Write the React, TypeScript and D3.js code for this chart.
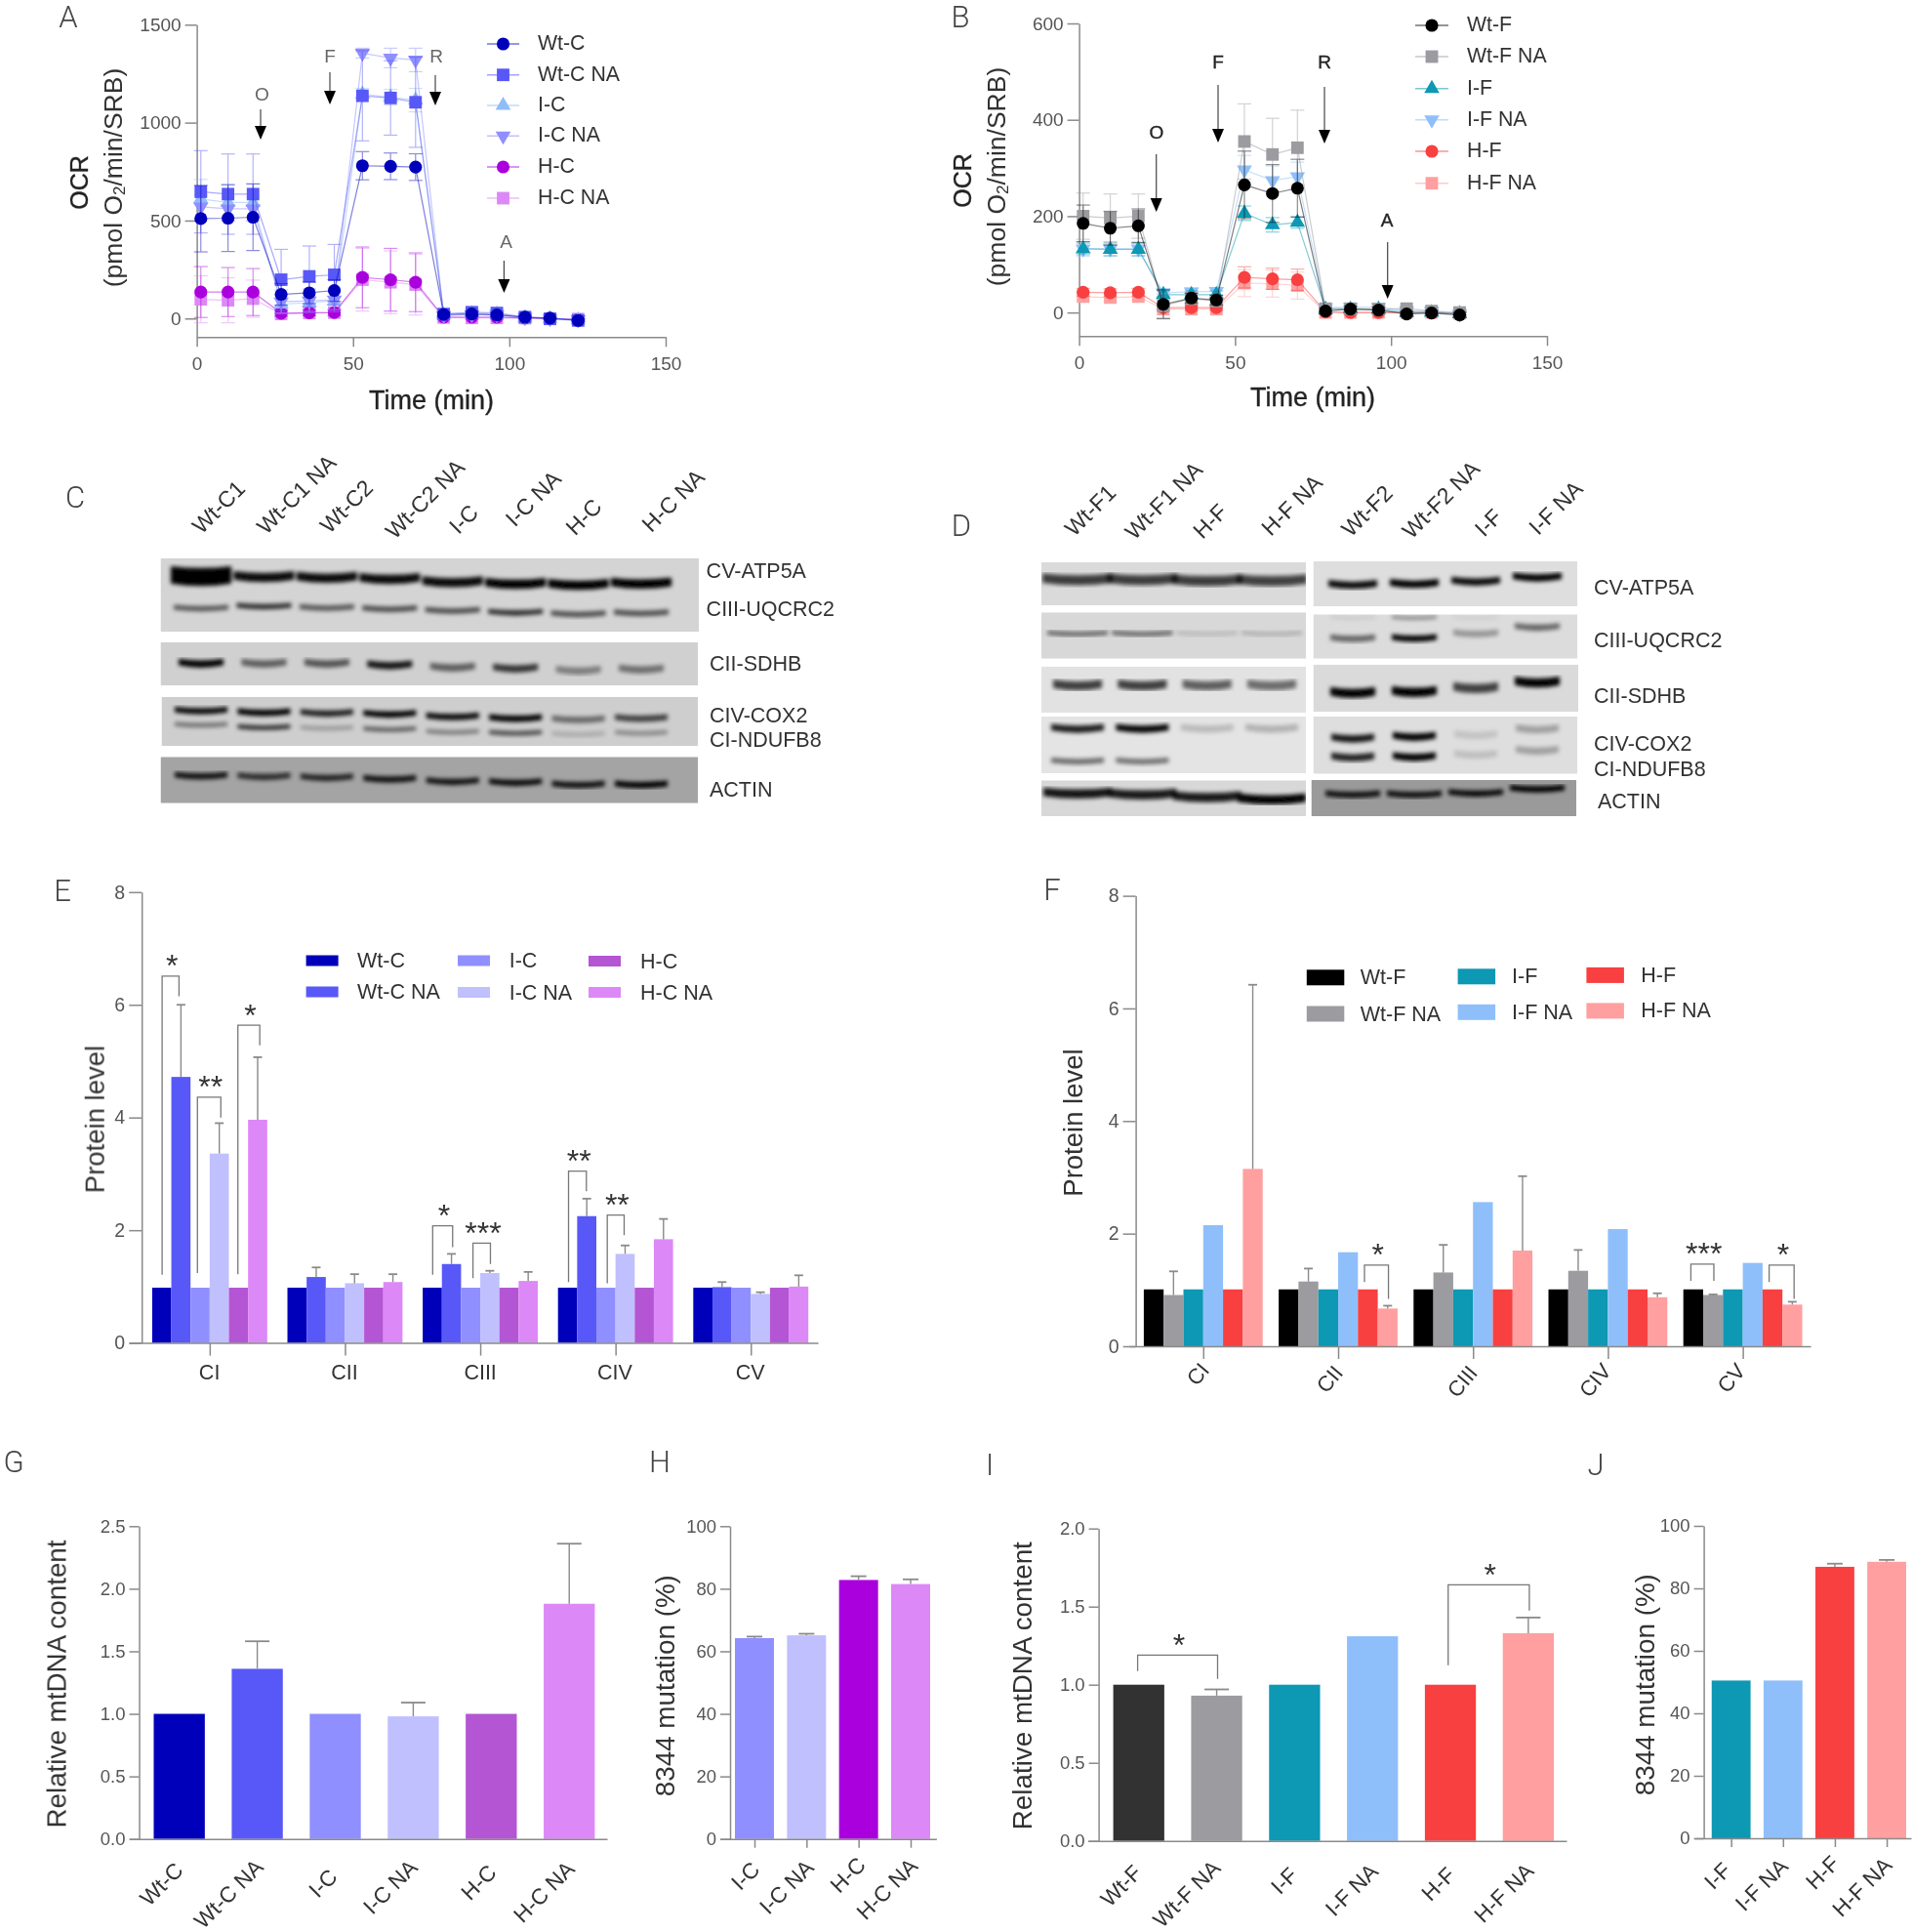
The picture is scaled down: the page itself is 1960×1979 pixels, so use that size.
import React, { useEffect, useRef } from "react";
import * as d3 from "d3";

const FONT = "'Liberation Sans', Arial, sans-serif";

// ---------- Panels A / B: OCR time courses ----------
const A_TIME = [1.3, 10, 18, 27, 36, 44, 53, 62, 70, 79, 88, 96, 105, 113, 122];
const A_WTC = [510, 512, 517, 123, 131, 143, 780, 777, 773, 20, 23, 18, 7, 2, -10];
const A_WTC_E = [170, 170, 170, 55, 55, 55, 72, 68, 68, 10, 12, 10, 6, 5, 6];
const A_WTCNA = [647, 635, 635, 198, 215, 223, 1137, 1126, 1104, 23, 32, 28, 7, -2, -10];
const A_WTCNA_E = [210, 205, 205, 155, 155, 155, 230, 190, 230, 15, 15, 15, 8, 6, 6];
const A_IC = [610, 592, 592, 73, 81, 90, 1145, 1130, 1115, 18, 25, 22, 5, 0, -8];
const A_IC_E = [100, 95, 95, 45, 45, 45, 30, 40, 60, 10, 10, 10, 6, 5, 5];
const A_ICNA = [570, 560, 560, 85, 90, 95, 1355, 1330, 1320, 15, 20, 18, 5, 0, -6];
const A_ICNA_E = [60, 60, 60, 60, 60, 60, 25, 50, 60, 10, 10, 10, 6, 5, 5];
const A_HC = [135, 135, 135, 27, 29, 30, 210, 198, 185, 7, 7, 7, 2, 0, -5];
const A_HC_E = [130, 125, 120, 15, 15, 15, 155, 160, 150, 8, 8, 8, 5, 5, 5];
const A_HCNA = [98, 93, 101, 23, 28, 30, 198, 185, 173, 5, 3, 3, 2, 0, -3];
const A_HCNA_E = [120, 115, 95, 15, 15, 15, 160, 160, 155, 8, 8, 8, 5, 5, 8];

const B_TIME = [1.3, 10, 19, 27, 36, 44, 53, 62, 70, 79, 87, 96, 105, 113, 122];
const B_WTF = [185, 175, 180, 17, 30, 26, 265, 247, 258, 3, 7, 5, -3, -1, -5];
const B_WTF_E = [38, 35, 35, 30, 10, 10, 70, 60, 60, 6, 6, 6, 5, 5, 5];
const B_WTFNA = [200, 196, 200, 14, 29, 24, 355, 328, 342, 8, 8, 7, 8, 3, 0];
const B_WTFNA_E = [48, 50, 46, 25, 12, 10, 78, 75, 78, 6, 6, 6, 5, 5, 5];
const B_IF = [132, 131, 131, 37, 37, 37, 206, 182, 187, 7, 7, 7, 0, 0, -3];
const B_IF_E = [12, 13, 13, 8, 8, 8, 15, 15, 12, 5, 5, 5, 4, 4, 4];
const B_IFNA = [132, 132, 132, 41, 43, 44, 296, 274, 282, 10, 11, 11, 3, 3, -3];
const B_IFNA_E = [15, 15, 15, 8, 8, 8, 30, 30, 30, 5, 5, 5, 4, 4, 4];
const B_HF = [42, 41, 42, 10, 10, 10, 73, 70, 68, 1, 0, 0, 0, 0, -2];
const B_HF_E = [8, 8, 8, 5, 5, 5, 22, 22, 22, 4, 4, 4, 3, 3, 3];
const B_HFNA = [33, 31, 33, 7, 7, 7, 61, 60, 56, 0, 0, 0, 0, 0, -2];
const B_HFNA_E = [8, 8, 8, 5, 5, 5, 28, 28, 28, 4, 4, 4, 3, 3, 3];

const C_NAMES = ["Wt-C", "Wt-C NA", "I-C", "I-C NA", "H-C", "H-C NA"];
const F_NAMES = ["Wt-F", "Wt-F NA", "I-F", "I-F NA", "H-F", "H-F NA"];
const OCR_C_COLORS = ["#0000bb", "#5858f8", "#90bcf8", "#8f8fff", "#aa00dd", "#dd88f7"];
const OCR_F_COLORS = ["#000000", "#9b9ba0", "#0f98b4", "#8fbffa", "#f84040", "#ff9f9f"];
const BAR_C_COLORS = ["#0000bb", "#5858f8", "#8f8fff", "#c0c0ff", "#b455d4", "#dd88f7"];
const BAR_F_COLORS = ["#000000", "#9b9ba0", "#0f98b4", "#8fbffa", "#f84040", "#ff9f9f"];

// ---------- Panels C / D: blots (relative band migration and darkness) ----------
const C_LANES = ["Wt-C1", "Wt-C1 NA", "Wt-C2", "Wt-C2 NA", "I-C", "I-C  NA", "H-C", "H-C  NA"];
const C_ATP_POS = [0.252, 0.26, 0.27, 0.286, 0.33, 0.352, 0.366, 0.349];
const C_ATP_DARK = [1, 0.95, 0.95, 0.95, 0.95, 1, 1, 1];
const C_UQ_POS = [0.685, 0.659, 0.677, 0.694, 0.717, 0.743, 0.764, 0.751];
const C_UQ_DARK = [0.6, 0.8, 0.6, 0.65, 0.65, 0.8, 0.65, 0.65];
const C_SDHB_POS = [0.497, 0.497, 0.497, 0.535, 0.587, 0.61, 0.66, 0.632];
const C_SDHB_DARK = [1, 0.55, 0.6, 0.9, 0.55, 0.75, 0.4, 0.47];
const C_COX_POS = [0.284, 0.318, 0.332, 0.352, 0.404, 0.437, 0.463, 0.437];
const C_COX_DARK = [0.95, 1, 0.85, 1, 0.95, 1, 0.5, 0.7];
const C_NDU_POS = [0.571, 0.622, 0.636, 0.662, 0.716, 0.736, 0.761, 0.736];
const C_NDU_DARK = [0.45, 0.8, 0.25, 0.55, 0.4, 0.65, 0.18, 0.35];
const C_ACT_POS = [0.416, 0.43, 0.451, 0.485, 0.536, 0.557, 0.605, 0.605];
const C_ACT_DARK = [0.9, 0.75, 0.8, 0.9, 0.9, 0.95, 0.9, 1];

const D_LANES_L = ["Wt-F1", "Wt-F1 NA", "H-F", "H-F NA"];
const D_LANES_R = ["Wt-F2", "Wt-F2 NA", "I-F", "I-F NA"];
const DL_ATP_POS = [0.41, 0.41, 0.43, 0.43];
const DL_ATP_DARK = [0.72, 0.72, 0.72, 0.7];
const DL_UQ_POS = [0.464, 0.464, 0.464, 0.464];
const DL_UQ_DARK = [0.55, 0.55, 0.14, 0.18];
const DL_SDHB_POS = [0.414, 0.414, 0.414, 0.414];
const DL_SDHB_DARK = [0.72, 0.72, 0.58, 0.52];
const DL_COX_POS = [0.219, 0.219, 0.219, 0.219];
const DL_COX_DARK = [0.88, 0.98, 0.18, 0.22];
const DL_NDU_POS = [0.793, 0.793, 0.793, 0.793];
const DL_NDU_DARK = [0.55, 0.52, 0, 0];
const DL_ACT_POS = [0.373, 0.4, 0.474, 0.537];
const DL_ACT_DARK = [0.9, 0.88, 0.88, 1];
const DR_ATP_POS = [0.528, 0.507, 0.457, 0.363];
const DR_ATP_DARK = [0.95, 1, 0.95, 1];
const DR_UQ_POS = [0.551, 0.544, 0.441, 0.295];
const DR_UQ_DARK = [0.55, 1, 0.33, 0.55];
const DR_UQ2_POS = [0.08, 0.08, 0.08, 0.08];
const DR_UQ2_DARK = [0.08, 0.38, 0.06, 0];
const DR_SDHB_POS = [0.603, 0.582, 0.5, 0.383];
const DR_SDHB_DARK = [1, 1, 0.7, 1];
const DR_COX_POS = [0.387, 0.358, 0.329, 0.227];
const DR_COX_DARK = [0.9, 1, 0.12, 0.28];
const DR_NDU_POS = [0.716, 0.71, 0.67, 0.6];
const DR_NDU_DARK = [0.85, 1, 0.14, 0.28];
const DR_ACT_POS = [0.405, 0.405, 0.37, 0.25];
const DR_ACT_DARK = [0.9, 0.9, 0.95, 1];

// ---------- Panels E / F: protein level ----------
const COMPLEXES = ["CI", "CII", "CIII", "CIV", "CV"];
const E_WTC = [0.98, 0.98, 0.98, 0.98, 0.98];
const E_WTCNA = [4.72, 1.17, 1.4, 2.25, 0.99];
const E_IC = [0.98, 0.98, 0.98, 0.98, 0.98];
const E_ICNA = [3.36, 1.06, 1.24, 1.58, 0.87];
const E_HC = [0.98, 0.98, 0.98, 0.98, 0.98];
const E_HCNA = [3.96, 1.08, 1.1, 1.84, 1.0];
const E_WTCNA_TOP = [6.0, 1.34, 1.58, 2.56, 1.08];
const E_ICNA_TOP = [3.9, 1.22, 1.28, 1.73, 0.9];
const E_HCNA_TOP = [5.07, 1.22, 1.26, 2.2, 1.2];
const E_SIG = [
  { group: 0, from: 0.52, to: 1.4, top: 6.51, left: 1.21, right: 6.15, label: "*" },
  { group: 0, from: 2.36, to: 3.58, top: 4.36, left: 1.24, right: 4.0, label: "**" },
  { group: 0, from: 4.47, to: 5.61, top: 5.64, left: 1.22, right: 5.28, label: "*" },
  { group: 2, from: 0.52, to: 1.56, top: 2.08, left: 1.21, right: 1.7, label: "*" },
  { group: 2, from: 2.62, to: 3.53, top: 1.77, left: 1.15, right: 1.4, label: "***" },
  { group: 3, from: 0.55, to: 1.48, top: 3.05, left: 1.08, right: 2.69, label: "**" },
  { group: 3, from: 2.57, to: 3.45, top: 2.27, left: 1.06, right: 1.91, label: "**" },
];

const F_WTF = [1.01, 1.01, 1.01, 1.01, 1.01];
const F_WTFNA = [0.91, 1.15, 1.31, 1.34, 0.91];
const F_IF = [1.01, 1.01, 1.01, 1.01, 1.01];
const F_IFNA = [2.15, 1.67, 2.56, 2.08, 1.48];
const F_HF = [1.01, 1.01, 1.01, 1.01, 1.01];
const F_HFNA = [3.15, 0.67, 1.7, 0.87, 0.74];
const F_WTFNA_TOP = [1.33, 1.38, 1.8, 1.71, 0.92];
const F_HFNA_TOP = [6.42, 0.72, 3.02, 0.94, 0.79];
const F_SIG = [
  { group: 1, from: 4.33, to: 5.54, top: 1.44, left: 1.14, right: 0.84, label: "*" },
  { group: 4, from: 0.38, to: 1.54, top: 1.46, left: 1.16, right: 1.16, label: "***" },
  { group: 4, from: 4.33, to: 5.59, top: 1.44, left: 1.14, right: 0.84, label: "*" },
];

// ---------- Panels G / H / I / J ----------
const G_VALUES = [1, 1.36, 1, 0.98, 1, 1.88];
const G_TOPS = [null, 1.58, null, 1.09, null, 2.36];
const H_CATS = ["I-C", "I-C NA", "H-C", "H-C NA"];
const H_VALUES = [64.2, 65.1, 82.8, 81.5];
const H_TOPS = [64.7, 65.6, 84.0, 83.0];
const I_VALUES = [1, 0.93, 1, 1.31, 1, 1.33];
const I_TOPS = [null, 0.97, null, null, null, 1.43];
const J_CATS = ["I-F", "I-F NA", "H-F", "H-F NA"];
const J_VALUES = [50.5, 50.5, 86.9, 88.5];
const J_TOPS = [null, null, 87.9, 89.1];

type Sel = any;

function txt(g: Sel, x: number, y: number, s: string, o: any = {}) {
  return g
    .append("text")
    .attr("transform", `translate(${x},${y})${o.rot ? ` rotate(${o.rot})` : ""}`)
    .attr("text-anchor", o.anchor || "middle")
    .attr("dominant-baseline", o.base || "central")
    .attr("font-family", o.family || FONT)
    .attr("font-size", o.size || 20)
    .attr("font-weight", o.weight || 400)
    .attr("fill", o.fill || "#333")
    .attr("stroke", o.stroke || "none")
    .attr("stroke-width", o.stroke ? 0.35 : 0)
    .text(s);
}

function styleAxis(a: Sel, fontSize: number) {
  a.selectAll("path,line").attr("stroke", "#8a8a8a").attr("stroke-width", 1.5);
  a.selectAll("text").attr("font-family", FONT).attr("font-size", fontSize).attr("fill", "#555");
}

function yAxis(g: Sel, y: any, x: number, values: number[], fmt: any, len: number, fs = 19) {
  const a = g
    .append("g")
    .attr("transform", `translate(${x},0)`)
    .call(d3.axisLeft(y).tickValues(values).tickFormat(fmt).tickSize(len).tickSizeOuter(0).tickPadding(4));
  styleAxis(a, fs);
}

function xAxisTicks(g: Sel, x: any, y: number, values: number[], len: number, fmt: any = () => "") {
  const a = g
    .append("g")
    .attr("transform", `translate(0,${y})`)
    .call(d3.axisBottom(x).tickValues(values).tickFormat(fmt).tickSize(len).tickSizeOuter(0).tickPadding(10));
  styleAxis(a, 19);
}

function marker(g: Sel, i: number, x: number, y: number, color: string) {
  const types = [d3.symbolCircle, d3.symbolSquare, d3.symbolTriangle, d3.symbolTriangle, d3.symbolCircle, d3.symbolSquare];
  const sizes = [135, 165, 105, 105, 135, 165];
  g.append("path")
    .attr("d", d3.symbol().type(types[i]).size(sizes[i])())
    .attr("transform", `translate(${x},${y})${i === 3 ? " rotate(180)" : ""}`)
    .attr("fill", color);
}

function arrow(g: Sel, x: number, y0: number, y1: number, label: string, lx: number, ly: number, col: string, bold: boolean) {
  txt(g, lx, ly, label, { size: 19, fill: col, stroke: bold ? col : undefined });
  g.append("line").attr("x1", x).attr("x2", x).attr("y1", y0).attr("y2", y1 - 8).attr("stroke", "#444").attr("stroke-width", 1.2);
  g.append("path").attr("d", `M${x - 6},${y1 - 14}L${x + 6},${y1 - 14}L${x},${y1}Z`).attr("fill", "#000");
}

function ocr(g: Sel, c: any) {
  const x = d3.scaleLinear().domain([0, 150]).range(c.xRange);
  const y = d3.scaleLinear().domain(c.yDomain).range(c.yRange);
  yAxis(g, y, c.xRange[0], c.yTicks, d3.format("d"), 12);
  xAxisTicks(g, x, c.yRange[0], [0, 50, 100, 150], 10, d3.format("d"));
  const line = d3.line<number>().x((_, i) => x(c.time[i])).y((v) => y(v));
  c.draw.forEach((si: number) => {
    const vals = c.series[si];
    const errs = c.errs[si];
    const col = c.colors[si];
    const sg = g.append("g");
    vals.forEach((v: number, i: number) => {
      const px = x(c.time[i]);
      const eg = sg.append("g").attr("stroke", col).attr("stroke-width", 1.2).attr("opacity", 0.45);
      eg.append("line").attr("x1", px).attr("x2", px).attr("y1", y(v - errs[i])).attr("y2", y(v + errs[i]));
      [v - errs[i], v + errs[i]].forEach((e) =>
        eg.append("line").attr("x1", px - 7).attr("x2", px + 7).attr("y1", y(e)).attr("y2", y(e))
      );
    });
    sg.append("path").attr("d", line(vals)).attr("fill", "none").attr("stroke", col).attr("stroke-width", 1.2).attr("opacity", 0.5);
    vals.forEach((v: number, i: number) => marker(sg, si, x(c.time[i]), y(v), col));
  });
  c.names.forEach((n: string, i: number) => {
    const ly = c.legendY[i];
    g.append("line").attr("x1", c.legendX[0]).attr("x2", c.legendX[1]).attr("y1", ly).attr("y2", ly).attr("stroke", c.colors[i]).attr("opacity", 0.55).attr("stroke-width", 1.5);
    marker(g, i, (c.legendX[0] + c.legendX[1]) / 2, ly, c.colors[i]);
    txt(g, c.legendX[2], ly - 1.2, n, { anchor: "start", size: 21.3 });
  });
  txt(g, c.timeX, c.timeY, "Time (min)", { size: 27, fill: "#222", stroke: "#222" });
  txt(g, c.ocrX, c.ocrY, "OCR", { size: 25, rot: -90, fill: "#222", stroke: "#222" });
  const t = txt(g, c.ocr2X, c.ocr2Y, "", { size: 26.5, rot: -90, fill: "#333" });
  t.append("tspan").text("(pmol O");
  t.append("tspan").attr("dy", 6).attr("font-size", 17).text("2");
  t.append("tspan").attr("dy", -6).text("/min/SRB)");
}

function blot(g: Sel, svg: Sel, id: string, b: any) {
  const cid = `clip-${id}`;
  svg.select("defs").append("clipPath").attr("id", cid).append("rect").attr("x", b.x[0]).attr("y", b.y[0]).attr("width", b.x[1] - b.x[0]).attr("height", b.y[1] - b.y[0]);
  const p = g.append("g").attr("clip-path", `url(#${cid})`);
  p.append("rect").attr("x", b.x[0]).attr("y", b.y[0]).attr("width", b.x[1] - b.x[0]).attr("height", b.y[1] - b.y[0]).attr("fill", b.bg);
  const lane = d3.scalePoint<number>().domain(d3.range(b.lanes[2])).range([b.lanes[0], b.lanes[1]]);
  const ry = d3.scaleLinear().domain([0, 1]).range(b.y);
  const f = p.append("g").attr("filter", "url(#band)");
  b.bands.forEach((bd: any) => {
    bd.pos.forEach((pos: number, i: number) => {
      const th = bd.thick * (bd.first && i === 0 ? bd.first : 1);
      const w = bd.width || b.width;
      const cx = lane(i)!;
      const yc = ry(pos);
      const x0 = cx - w / 2;
      const x1 = cx + w / 2;
      const c = Math.min(2.5, th * 0.3);
      f.append("path")
        .attr("d", `M${x0},${yc - th / 2 - c / 2}Q${cx},${yc - th / 2 + c} ${x1},${yc - th / 2 - c / 2}L${x1},${yc + th / 2 - c}Q${cx},${yc + th / 2 + c} ${x0},${yc + th / 2 - c}Z`)
        .attr("fill", "#000")
        .attr("opacity", bd.dark[i]);
    });
  });
}

function bars(g: Sel, y: any, items: any[], capW: number) {
  items.forEach((d) => {
    g.append("rect").attr("x", d.x).attr("width", d.w).attr("y", y(d.v)).attr("height", y(0) - y(d.v)).attr("fill", d.color);
  });
  items.forEach((d) => {
    if (d.top == null) return;
    const cx = d.x + d.w / 2;
    g.append("line").attr("x1", cx).attr("x2", cx).attr("y1", y(d.v)).attr("y2", y(d.top)).attr("stroke", "#8a8a8a").attr("stroke-width", 1.4);
    g.append("line").attr("x1", cx - capW / 2).attr("x2", cx + capW / 2).attr("y1", y(d.top)).attr("y2", y(d.top)).attr("stroke", "#8a8a8a").attr("stroke-width", 1.8);
  });
}

function bracket(g: Sel, x0: number, x1: number, yTop: number, yL: number, yR: number, label: string) {
  g.append("path").attr("d", `M${x0},${yL}V${yTop}H${x1}V${yR}`).attr("fill", "none").attr("stroke", "#777").attr("stroke-width", 1.3);
  txt(g, (x0 + x1) / 2 + 1.5, yTop + 0.5, label, { size: 32, base: "alphabetic", fill: "#333" });
}

function grouped(g: Sel, c: any) {
  const y = d3.scaleLinear().domain([0, 8]).range(c.yRange);
  const gx = d3.scaleLinear().domain([0, 5]).range([c.start, c.start + 5 * c.step]);
  const sx = d3.scaleBand<number>().domain(d3.range(6)).range([0, c.barW * 6]);
  const tx = d3.scaleLinear().domain(c.xLine).range(c.xLine);
  yAxis(g, y, c.axisX, [0, 2, 4, 6, 8], d3.format("d"), 13, 19.5);
  const items: any[] = [];
  COMPLEXES.forEach((_, gi) => {
    c.values.forEach((vs: number[], si: number) => {
      items.push({ x: gx(gi) + sx(si)!, w: sx.bandwidth(), v: vs[gi], top: c.tops[si] ? c.tops[si][gi] : null, color: c.colors[si] });
    });
  });
  const unit = d3.scaleLinear().domain([0, 6]).range([0, c.barW * 6]);
  bars(g, y, items, 9);
  xAxisTicks(g, tx, c.yRange[0], COMPLEXES.map((_, i) => gx(i) + unit(3)), 13);
  c.sig.forEach((s: any) => {
    const st = gx(s.group);
    bracket(g, st + unit(s.from), st + unit(s.to), y(s.top), y(s.left), y(s.right), s.label);
  });
  c.names.forEach((n: string, i: number) => {
    const k = Math.floor(i / 2);
    const row = i % 2;
    g.append("rect").attr("x", c.legX[k]).attr("y", c.legY[k][row]).attr("width", c.legW).attr("height", c.legH).attr("fill", c.colors[i]);
    txt(g, c.legTx[k], c.legY[k][row] + c.legH / 2, n, { anchor: "start", size: 21.5 });
  });
  txt(g, c.titleX, c.titleY, "Protein level", { size: 27.5, rot: -90 });
}

function single(g: Sel, c: any) {
  const y = d3.scaleLinear().domain(c.yDomain).range(c.yRange);
  const x = d3.scaleBand<string>().domain(c.cats).range(c.xRange).paddingInner(c.pad).paddingOuter(0);
  const tx = d3.scaleLinear().domain(c.xLine).range(c.xLine);
  yAxis(g, y, c.axisX, c.ticks, c.fmt, c.tickLen, 18.5);
  const items = c.cats.map((cat: string, i: number) => ({ x: x(cat), w: x.bandwidth(), v: c.values[i], top: c.tops[i], color: c.colors[i] }));
  bars(g, y, items, c.capW);
  xAxisTicks(g, tx, c.yRange[0], c.showTicks ? c.cats.map((k: string) => x(k)! + x.bandwidth() / 2) : [], 9);
  c.labelPos.forEach((p: number[], i: number) => txt(g, p[0], p[1], c.cats[i], { size: 22.5, rot: -45 }));
  txt(g, c.titleX, c.titleY, c.title, { size: 27.8, rot: -90 });
  (c.sig || []).forEach((s: any) => bracket(g, s.x0, s.x1, y(s.top), y(s.left), y(s.right), "*"));
}

function draw(el: SVGSVGElement) {
  const svg: Sel = d3.select(el);
  svg.selectAll("*").remove();
  const defs = svg.append("defs");
  defs.append("filter").attr("id", "band").attr("x", "-5%").attr("y", "-5%").attr("width", "110%").attr("height", "110%")
    .append("feGaussianBlur").attr("stdDeviation", 2.2);
  defs.append("filter").attr("id", "soft").attr("x", 0).attr("y", 0).attr("width", 1960).attr("height", 1979).attr("filterUnits", "userSpaceOnUse")
    .append("feGaussianBlur").attr("stdDeviation", 0.55);
  svg.append("rect").attr("width", 1960).attr("height", 1979).attr("fill", "#fff");
  const g = svg.append("g").attr("filter", "url(#soft)");

  // panel letters
  ([["A", 70, 17], ["B", 984, 17], ["C", 77, 509], ["D", 985, 538], ["E", 64, 912], ["F", 1078, 911], ["G", 14, 1497], ["H", 676, 1497], ["I", 1014, 1500], ["J", 1635, 1500]] as any[]).forEach(
    (l) => txt(g, l[1], l[2], l[0], { size: 31, fill: "#444", family: "Roboto, 'Liberation Sans', sans-serif", weight: 300 })
  );

  // A
  ocr(g, {
    xRange: [201.6, 682], yDomain: [-95, 1500], yRange: [345.3, 25.3], yTicks: [0, 500, 1000, 1500],
    time: A_TIME, series: [A_WTC, A_WTCNA, A_IC, A_ICNA, A_HC, A_HCNA], errs: [A_WTC_E, A_WTCNA_E, A_IC_E, A_ICNA_E, A_HC_E, A_HCNA_E],
    colors: OCR_C_COLORS, names: C_NAMES, draw: [5, 4, 2, 3, 1, 0],
    legendX: [499, 532, 551], legendY: [45, 76.7, 108, 139.3, 171, 203],
    timeX: 442, timeY: 410, ocrX: 81, ocrY: 187, ocr2X: 116, ocr2Y: 182,
  });
  arrow(g, 267, 112, 143, "O", 268.5, 96, "#666", false);
  arrow(g, 338, 74, 107, "F", 338, 57, "#666", false);
  arrow(g, 446, 77, 108, "R", 447, 57, "#666", false);
  arrow(g, 516.4, 267, 300, "A", 518.5, 247, "#666", false);

  // B
  ocr(g, {
    xRange: [1105.6, 1585], yDomain: [-49, 600], yRange: [344.3, 24], yTicks: [0, 200, 400, 600],
    time: B_TIME, series: [B_WTF, B_WTFNA, B_IF, B_IFNA, B_HF, B_HFNA], errs: [B_WTF_E, B_WTFNA_E, B_IF_E, B_IFNA_E, B_HF_E, B_HFNA_E],
    colors: OCR_F_COLORS, names: F_NAMES, draw: [5, 4, 3, 2, 1, 0],
    legendX: [1450, 1484, 1503], legendY: [26, 58, 90.7, 122.7, 155, 187.7],
    timeX: 1345, timeY: 407, ocrX: 986, ocrY: 185, ocr2X: 1021, ocr2Y: 181,
  });
  arrow(g, 1184.7, 158, 217, "O", 1185, 135, "#222", true);
  arrow(g, 1248, 87, 146, "F", 1248, 63, "#222", true);
  arrow(g, 1357, 89, 147, "R", 1357, 63, "#222", true);
  arrow(g, 1421.7, 248, 306, "A", 1421, 225, "#222", true);

  // C
  const cl = [206, 657, 8];
  blot(g, svg, "c1", { x: [164.5, 716], y: [571.7, 647], bg: "#d4d4d4", lanes: cl, width: 62, bands: [
    { pos: C_ATP_POS, dark: C_ATP_DARK, thick: 10, first: 1.9 }, { pos: C_UQ_POS, dark: C_UQ_DARK, thick: 6, width: 56 } ] });
  blot(g, svg, "c2", { x: [164.5, 715], y: [658, 702.3], bg: "#d0d0d0", lanes: cl, width: 46, bands: [{ pos: C_SDHB_POS, dark: C_SDHB_DARK, thick: 8 }] });
  blot(g, svg, "c3", { x: [165.5, 715], y: [714, 764.3], bg: "#cecece", lanes: cl, width: 54, bands: [
    { pos: C_COX_POS, dark: C_COX_DARK, thick: 7 }, { pos: C_NDU_POS, dark: C_NDU_DARK, thick: 5 } ] });
  blot(g, svg, "c4", { x: [164.5, 715], y: [775.3, 822.7], bg: "#a4a4a4", lanes: cl, width: 54, bands: [{ pos: C_ACT_POS, dark: C_ACT_DARK, thick: 7 }] });
  ([[223.8, 519.3], [303.6, 506.3], [354.9, 518.7], [435.4, 511], [475, 531.7], [546.3, 510.7], [598, 529.3], [689.6, 512.7]] as number[][]).forEach((p, i) =>
    txt(g, p[0], p[1], C_LANES[i], { size: 23, rot: -45 })
  );
  ([["CV-ATP5A", 723.6, 585], ["CIII-UQCRC2", 723.6, 624], ["CII-SDHB", 727, 680], ["CIV-COX2", 727, 733], ["CI-NDUFB8", 727, 758], ["ACTIN", 727, 809]] as any[]).forEach((l) =>
    txt(g, l[1], l[2], l[0], { anchor: "start", size: 21.5 })
  );

  // D
  const dl = [1104, 1303, 4];
  const dr = [1386, 1575, 4];
  blot(g, svg, "dl1", { x: [1067, 1338], y: [576, 620], bg: "#dadada", lanes: dl, width: 72, bands: [{ pos: DL_ATP_POS, dark: DL_ATP_DARK, thick: 11 }] });
  blot(g, svg, "dl2", { x: [1067, 1338], y: [627.3, 674.7], bg: "#d8d8d8", lanes: dl, width: 62, bands: [{ pos: DL_UQ_POS, dark: DL_UQ_DARK, thick: 5 }] });
  blot(g, svg, "dl3", { x: [1067, 1338], y: [682.7, 730], bg: "#e2e2e2", lanes: dl, width: 50, bands: [{ pos: DL_SDHB_POS, dark: DL_SDHB_DARK, thick: 10 }] });
  blot(g, svg, "dl4", { x: [1067, 1338], y: [734, 792], bg: "#e4e4e4", lanes: dl, width: 54, bands: [
    { pos: DL_COX_POS, dark: DL_COX_DARK, thick: 8 }, { pos: DL_NDU_POS, dark: DL_NDU_DARK, thick: 6 } ] });
  blot(g, svg, "dl5", { x: [1067, 1338], y: [799.3, 836], bg: "#d8d8d8", lanes: dl, width: 70, bands: [{ pos: DL_ACT_POS, dark: DL_ACT_DARK, thick: 10 }] });
  blot(g, svg, "dr1", { x: [1345.5, 1616], y: [575, 621], bg: "#dedede", lanes: dr, width: 50, bands: [{ pos: DR_ATP_POS, dark: DR_ATP_DARK, thick: 8 }] });
  blot(g, svg, "dr2", { x: [1345.5, 1616], y: [629.3, 674.7], bg: "#dcdcdc", lanes: dr, width: 46, bands: [
    { pos: DR_UQ_POS, dark: DR_UQ_DARK, thick: 7 }, { pos: DR_UQ2_POS, dark: DR_UQ2_DARK, thick: 4 } ] });
  blot(g, svg, "dr3", { x: [1345.5, 1617], y: [680.7, 729.3], bg: "#dadada", lanes: dr, width: 46, bands: [{ pos: DR_SDHB_POS, dark: DR_SDHB_DARK, thick: 10 }] });
  blot(g, svg, "dr4", { x: [1345.5, 1616], y: [734, 792.7], bg: "#dedede", lanes: dr, width: 44, bands: [
    { pos: DR_COX_POS, dark: DR_COX_DARK, thick: 8 }, { pos: DR_NDU_POS, dark: DR_NDU_DARK, thick: 8 } ] });
  blot(g, svg, "dr5", { x: [1343.5, 1615], y: [799, 836], bg: "#9a9a9a", lanes: dr, width: 56, bands: [{ pos: DR_ACT_POS, dark: DR_ACT_DARK, thick: 7 }] });
  ([[1116.9, 522.7], [1192.2, 512.7], [1239.8, 533.7], [1323.5, 517.3]] as number[][]).forEach((p, i) =>
    txt(g, p[0], p[1], D_LANES_L[i], { size: 23, rot: -45 })
  );
  ([[1400.4, 523.3], [1476.2, 511.7], [1524.9, 535.3], [1593.9, 520]] as number[][]).forEach((p, i) =>
    txt(g, p[0], p[1], D_LANES_R[i], { size: 23, rot: -45 })
  );
  ([["CV-ATP5A", 1633, 601.5], ["CIII-UQCRC2", 1633, 655.5], ["CII-SDHB", 1633, 713], ["CIV-COX2", 1633, 761.7], ["CI-NDUFB8", 1633, 788.3], ["ACTIN", 1637, 820.7]] as any[]).forEach((l) =>
    txt(g, l[1], l[2], l[0], { anchor: "start", size: 21.5 })
  );

  // E
  grouped(g, {
    yRange: [1375.6, 913.8], axisX: 145.2, xLine: [132.4, 838], start: 155.9, step: 138.6, barW: 19.65,
    values: [E_WTC, E_WTCNA, E_IC, E_ICNA, E_HC, E_HCNA], tops: [null, E_WTCNA_TOP, null, E_ICNA_TOP, null, E_HCNA_TOP],
    colors: BAR_C_COLORS, names: C_NAMES, sig: E_SIG,
    legX: [313.6, 469, 603], legTx: [366, 521.7, 656], legY: [[978.5, 1010.5], [978.5, 1011], [979, 1011]], legW: 33, legH: 11,
    titleX: 96.7, titleY: 1146.5,
  });
  COMPLEXES.forEach((c, i) => txt(g, [214.6, 352.9, 492.1, 629.9, 768.7][i], 1405.5, c, { size: 21.5 }));

  // F
  grouped(g, {
    yRange: [1379, 917.6], axisX: 1163.6, xLine: [1156.8, 1855], start: 1171.9, step: 138.2, barW: 20.3,
    values: [F_WTF, F_WTFNA, F_IF, F_IFNA, F_HF, F_HFNA], tops: [null, F_WTFNA_TOP, null, null, null, F_HFNA_TOP],
    colors: BAR_F_COLORS, names: F_NAMES, sig: F_SIG,
    legX: [1338.8, 1493.6, 1625.4], legTx: [1393.7, 1549, 1681.3], legY: [[993.3, 1030.5], [992.3, 1028.8], [990.9, 1027.4]], legW: 38.5, legH: 16,
    titleX: 1099, titleY: 1150,
  });
  ([[1227.4, 1407.6], [1362.3, 1412.7], [1498.3, 1415], [1634.3, 1414], [1773.9, 1411.7]] as number[][]).forEach((p, i) =>
    txt(g, p[0], p[1], COMPLEXES[i], { size: 22, rot: -50 })
  );

  // G
  single(g, {
    yDomain: [0, 2.5], yRange: [1883.7, 1563.3], axisX: 142.5, xLine: [132.5, 622], xRange: [157.5, 609.4], pad: 0.345,
    cats: C_NAMES, values: G_VALUES, tops: G_TOPS, colors: BAR_C_COLORS, ticks: [0, 0.5, 1, 1.5, 2, 2.5], fmt: d3.format(".1f"), tickLen: 10, capW: 25,
    labelPos: [[165.6, 1930], [234.4, 1940], [331, 1929.3], [400, 1933], [490.6, 1928.3], [557.5, 1938]],
    title: "Relative mtDNA content", titleX: 57.5, titleY: 1725,
  });
  // H
  single(g, {
    yDomain: [0, 100], yRange: [1883.7, 1563.3], axisX: 748, xLine: [737.5, 959.4], xRange: [753, 953], pad: 0.25,
    cats: H_CATS, values: H_VALUES, tops: H_TOPS, colors: ["#8f8fff", "#c0c0ff", "#aa00dd", "#dd88f7"], ticks: [0, 20, 40, 60, 80, 100], fmt: d3.format("d"), tickLen: 10, capW: 16, showTicks: true,
    labelPos: [[763.8, 1921.7], [806, 1933], [868.8, 1920.7], [909, 1935]],
    title: "8344 mutation (%)", titleX: 681, titleY: 1726.7,
  });
  // I
  single(g, {
    yDomain: [0, 2], yRange: [1885.7, 1565.7], axisX: 1125.6, xLine: [1114.4, 1605], xRange: [1140.6, 1592], pad: 0.345,
    cats: F_NAMES, values: I_VALUES, tops: I_TOPS, colors: ["#333333", "#9b9ba0", "#0f98b4", "#8fbffa", "#f84040", "#ff9f9f"], ticks: [0, 0.5, 1, 1.5, 2], fmt: d3.format(".1f"), tickLen: 10, capW: 25,
    labelPos: [[1148.8, 1931.7], [1216, 1940], [1316, 1926.7], [1385, 1936], [1473.8, 1930], [1541, 1939]],
    title: "Relative mtDNA content", titleX: 1047.5, titleY: 1726.7,
    sig: [{ x0: 1165.6, x1: 1247.5, top: 1.19, left: 1.0875, right: 1.0375 }, { x0: 1483.75, x1: 1566.9, top: 1.64, left: 1.125, right: 1.475 }],
  });
  // J
  single(g, {
    yDomain: [0, 100], yRange: [1883, 1563], axisX: 1745.6, xLine: [1736, 1958], xRange: [1753.75, 1953], pad: 0.25,
    cats: J_CATS, values: J_VALUES, tops: J_TOPS, colors: ["#0f98b4", "#8fbffa", "#f84040", "#ff9f9f"], ticks: [0, 20, 40, 60, 80, 100], fmt: d3.format("d"), tickLen: 10, capW: 16, showTicks: true,
    labelPos: [[1760, 1921.7], [1805, 1930.7], [1867.5, 1918.3], [1908, 1933]],
    title: "8344 mutation (%)", titleX: 1685, titleY: 1725.7,
  });
}

export default function App() {
  const ref = useRef<SVGSVGElement>(null);
  useEffect(() => {
    if (ref.current) draw(ref.current);
  }, []);
  return <svg ref={ref} width={1960} height={1979} style={{ position: "absolute", left: 0, top: 0, display: "block" }} />;
}
